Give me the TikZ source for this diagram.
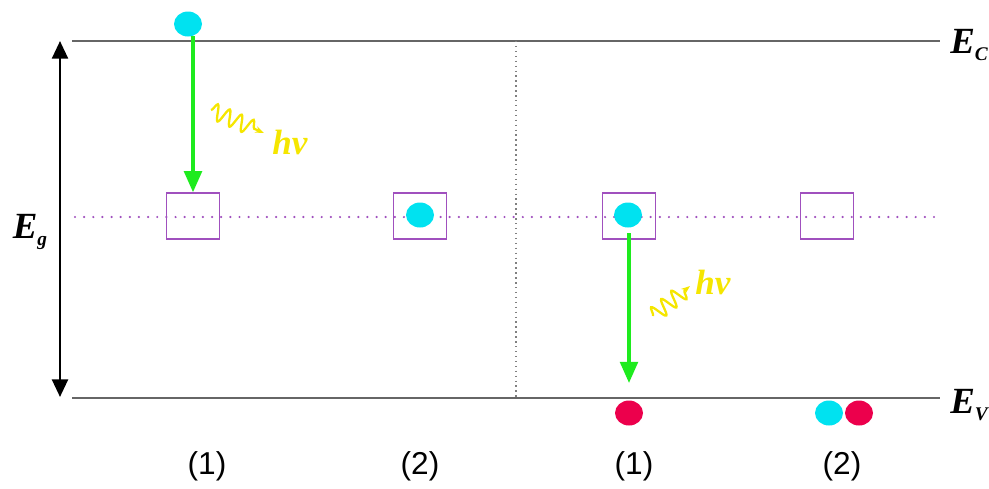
\documentclass[tikz,border=0pt]{standalone}
\usepackage{fontspec}
\setmainfont{Liberation Serif}
\newfontfamily\lblfont{Liberation Sans}
\usepackage{tikz}
\usetikzlibrary{arrows.meta}
\usetikzlibrary{decorations.pathmorphing}
\usetikzlibrary{shapes.geometric}
\definecolor{elcyan}{RGB}{0,226,240}
\definecolor{hored}{RGB}{236,0,76}
\definecolor{trapviolet}{RGB}{160,80,190}
\definecolor{phgreen}{RGB}{30,235,30}
\definecolor{phyellow}{RGB}{245,230,0}
\newcommand{\lvl}[2]{{\fontsize{21}{21}\selectfont\bfseries\itshape #1}\raisebox{-4pt}{\fontsize{11}{11}\selectfont\bfseries\itshape #2}}
\tikzset{
  trap/.style={draw=trapviolet,line width=0.8pt,minimum width=53*0.2mm,minimum height=46*0.2mm,inner sep=0pt},
  elec/.style={ellipse,fill=elcyan,minimum width=28*0.2mm,minimum height=25*0.2mm,inner sep=0pt},
  hole/.style={ellipse,fill=hored,minimum width=28*0.2mm,minimum height=25*0.2mm,inner sep=0pt},
  drop/.style={phgreen,line width=2pt,-{Triangle[length=12pt,width=10pt]}},
  photon/.style={phyellow,line width=1.3pt,decorate,decoration={snake,amplitude=1.6mm,segment length=2.6mm,post length=1.2mm},-{Stealth[length=5pt]}},
  hvtext/.style={phyellow,font=\fontsize{20}{20}\selectfont\bfseries\itshape},
  caselbl/.style={font=\lblfont\fontsize{18}{18}\selectfont}
}
\begin{document}
\begin{tikzpicture}[x=0.2mm,y=-0.2mm]
\useasboundingbox (0,0) rectangle (989,488);
% levels
\coordinate (cl) at (72,41);
\coordinate (cr) at (940,41);
\coordinate (vl) at (72,398);
\coordinate (vr) at (940,398);
\draw[gray!80!black,line width=0.8pt] (cl) -- (cr);
\draw[gray!80!black,line width=0.8pt] (vl) -- (vr);
\node[anchor=west,inner sep=0pt] (ec) at (950,45) {\lvl{E}{C}};
\node[anchor=west,inner sep=0pt] (ev) at (950,405) {\lvl{E}{V}};
\coordinate (tl) at (75,217);
\coordinate (tr) at (940,217);
\draw[trapviolet,line width=1.4pt,line cap=round,dash pattern=on 0pt off 5.2pt] (tl) -- (tr);
\coordinate (mt) at (516,41);
\coordinate (mb) at (516,398);
\draw[gray,line width=0.8pt,dotted] (mt) -- (mb);
% gap
\coordinate (gt) at (60,41);
\coordinate (gb) at (60,397);
\draw[line width=1.5pt,{Triangle[length=10pt,width=9pt]}-{Triangle[length=10pt,width=9pt]}] (gt) -- (gb);
\node[inner sep=0pt] (eg) at (30,232) {\lvl{E}{g}};
% traps
\node[trap] (t1) at (193,216) {};
\node[trap] (t2) at (420,216) {};
\node[trap] (t3) at (629,216) {};
\node[trap] (t4) at (827,216) {};
% carriers
\node[elec] (e1) at (188,24) {};
\node[elec] (e2) at (420,215) {};
\node[elec] (e3) at (628,215) {};
\node[hole] (h3) at (629,413) {};
\node[elec] (e4) at (829,413) {};
\node[hole] (h4) at (859,413) {};
% transitions
\coordinate (a1) at (193,36);
\coordinate (a3) at (629,233);
\coordinate (b3) at (629,383);
\draw[drop] (a1) -- (t1.north);
\draw[drop] (a3) -- (b3);
\coordinate (p1) at (211,110);
\coordinate (q1) at (264,133);
\draw[photon] (p1) -- (q1);
\node[hvtext] (hv1) at (290,142) {hv};
\coordinate (p3) at (653,316);
\coordinate (q3) at (690,286);
\draw[photon] (p3) -- (q3);
\node[hvtext] (hv3) at (713,282) {hv};
% cases
\node[caselbl] (c1) at (207,466) {(1)};
\node[caselbl] (c2) at (420,466) {(2)};
\node[caselbl] (c3) at (634,466) {(1)};
\node[caselbl] (c4) at (842,466) {(2)};
\end{tikzpicture}
\end{document}
